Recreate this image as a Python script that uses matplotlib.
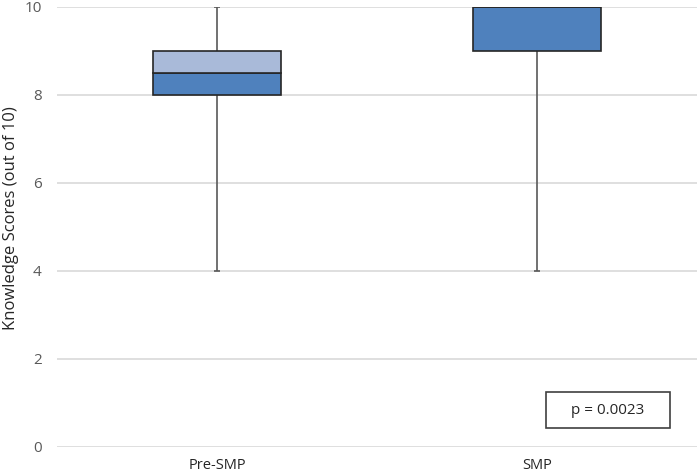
import matplotlib.pyplot as plt
from matplotlib.patches import Rectangle

plt.rcParams["font.family"] = ["Open Sans", "DejaVu Sans"]

# =========================
# Data
# =========================

groups = ["Pre-SMP", "SMP"]
mins = [4, 4]
q1 = [8, 9]
medians = [8.5, 10]
q3 = [9, 10]
maxs = [10, 10]
y_ticks = [0, 2, 4, 6, 8, 10]
p_text = "p = 0.0023"

DARK = "#4F81BD"
LIGHT = "#A9BAD9"
EDGE = "#262626"
WHISKER = "#595959"

fig = plt.figure(figsize=(6.97, 4.74), dpi=100)
ax = fig.add_axes([57 / 697, 27 / 474, 640 / 697, 440 / 474])

x = list(range(len(groups)))
width = 0.4

# gridlines
for t in y_ticks:
    ax.axhline(t, color="#D9D9D9", lw=1.2, zorder=0)

# whiskers
ax.vlines(x, mins, q1, color=WHISKER, lw=1.2, zorder=1)
ax.vlines(x, q3, maxs, color=WHISKER, lw=1.2, zorder=1)
ax.hlines(mins, [i - 0.008 for i in x], [i + 0.008 for i in x], color=WHISKER, lw=1.2)
ax.hlines(maxs, [i - 0.008 for i in x], [i + 0.008 for i in x], color=WHISKER, lw=1.2)

# boxes: lower half dark, upper half light
lower = [m - a for m, a in zip(medians, q1)]
upper = [b - m for b, m in zip(q3, medians)]
ax.bar(x, lower, width, bottom=q1, color=DARK, edgecolor=EDGE, lw=1.2, zorder=2)
ax.bar(x, upper, width, bottom=medians, color=LIGHT, edgecolor=EDGE, lw=1.2, zorder=2)

ax.set_xlim(-0.5, 1.5)
ax.set_ylim(0, 10)
ax.set_yticks(y_ticks)
ax.set_xticks(x)
ax.set_xticklabels(groups, fontsize=10.5, color="#262626")
ax.tick_params(axis="y", colors="#595959", labelsize=11, length=0, pad=11)
ax.tick_params(axis="x", length=0, pad=8)
for s in ax.spines.values():
    s.set_visible(False)

ax.set_ylabel("Knowledge Scores (out of 10)", fontsize=12, color="#262626",
              va="center", ha="center")
ax.yaxis.set_label_coords(-46 / 640, 0.52)

# p-value box
ax.add_patch(Rectangle((489 / 640, 19 / 440), 124 / 640, 36 / 440, transform=ax.transAxes,
                       facecolor="white", edgecolor="#404040", lw=1.2, zorder=3))
ax.text((489 + 62) / 640, 37 / 440, p_text, transform=ax.transAxes, ha="center", va="center",
        fontsize=11, color="#262626", zorder=4)

fig.savefig("out.png", dpi=100)
